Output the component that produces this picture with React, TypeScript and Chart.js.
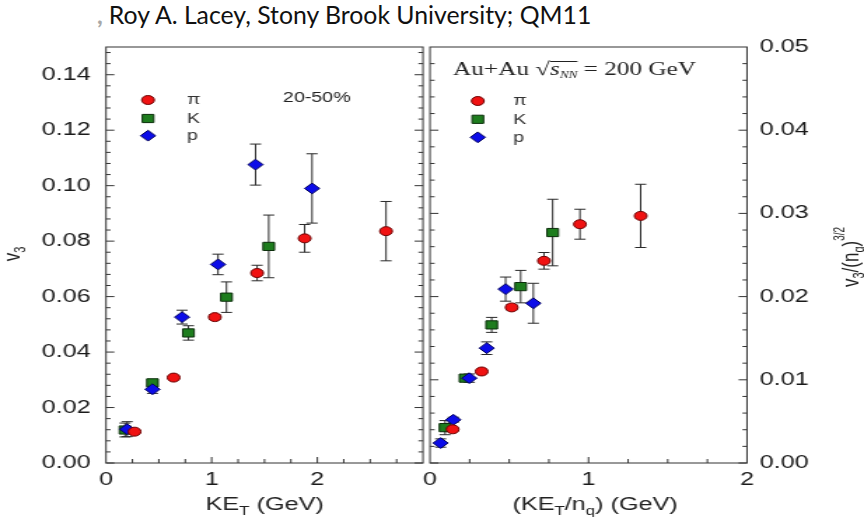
import React, { useEffect, useRef } from 'react';
import { Chart, registerables } from 'chart.js';

Chart.register(...registerables);

// The original figure is stretched horizontally; canvases are drawn narrower and widened by CSS.
const CW = 617;
const CH = 517;
const K = 864 / CW;
const SANS = '"Liberation Sans", Arial, sans-serif';
const SERIF = '"Liberation Serif", "DejaVu Serif", serif';

// ---- Left panel: v3 vs KE_T (GeV) ----
const pionKE = [0.27, 0.64, 1.03, 1.43, 1.88, 2.65];
const pionV3 = [0.0113, 0.0308, 0.0526, 0.0685, 0.081, 0.0836];
const pionV3Err = [0.0006, 0.0006, 0.0009, 0.0028, 0.005, 0.0107];

const kaonKE = [0.18, 0.44, 0.78, 1.14, 1.54];
const kaonV3 = [0.0119, 0.0289, 0.0469, 0.0598, 0.0781];
const kaonV3Err = [0.0025, 0.001, 0.0026, 0.0055, 0.0113];

const protonKE = [0.2, 0.44, 0.72, 1.06, 1.415, 1.95];
const protonV3 = [0.0122, 0.0266, 0.0526, 0.0716, 0.1076, 0.099];
const protonV3Err = [0.0027, 0.0015, 0.0025, 0.0037, 0.0074, 0.0125];

// ---- Right panel: v3/(nq)^{3/2} vs KE_T/nq (GeV) ----
const pionKEnq = [0.143, 0.326, 0.515, 0.719, 0.946, 1.329];
const pionScaled = [0.00405, 0.011, 0.0187, 0.0243, 0.0287, 0.0297];
const pionScaledErr = [0.0002, 0.0002, 0.0003, 0.001, 0.0018, 0.0038];

const kaonKEnq = [0.095, 0.221, 0.389, 0.572, 0.774];
const kaonScaled = [0.00425, 0.0102, 0.0166, 0.0212, 0.0277];
const kaonScaledErr = [0.00085, 0.0004, 0.0009, 0.00195, 0.004];

const protonKEnq = [0.067, 0.147, 0.248, 0.358, 0.477, 0.652];
const protonScaled = [0.0024, 0.0052, 0.0102, 0.0138, 0.0209, 0.0192];
const protonScaledErr = [0.0005, 0.0003, 0.0005, 0.00076, 0.00145, 0.0024];

// ---- Tick labels ----
const leftXTicks = [0, 1, 2];
const leftYTicks = [0, 0.02, 0.04, 0.06, 0.08, 0.1, 0.12, 0.14];
const rightXTicks = [0, 1, 2];
const rightYTicks = [0, 0.01, 0.02, 0.03, 0.04, 0.05];

const legendLabels = ['π', 'K', 'p'];

const STYLES = {
  pion: { pointStyle: 'circle', radius: 4.5, bg: '#f01212', border: '#6a0000' },
  kaon: { pointStyle: 'rect', radius: 5.8, bg: '#1e7d1e', border: '#0b2e0b' },
  proton: { pointStyle: 'rectRot', radius: 5.4, bg: '#0c0ce8', border: '#00005a' },
};

type Part = { t: string; size: number; dy?: number; style?: string; family?: string };

function drawRich(ctx: CanvasRenderingContext2D, parts: Part[], x: number, y: number, align: 'left' | 'center') {
  const widths: number[] = [];
  let total = 0;
  parts.forEach((p) => {
    ctx.font = `${p.style || ''} ${p.size}px ${p.family || SANS}`;
    const w = ctx.measureText(p.t).width;
    widths.push(w);
    total += w;
  });
  let cx = align === 'center' ? x - total / 2 : x;
  const starts: number[] = [];
  ctx.textAlign = 'left';
  ctx.textBaseline = 'alphabetic';
  parts.forEach((p, i) => {
    ctx.font = `${p.style || ''} ${p.size}px ${p.family || SANS}`;
    starts.push(cx);
    ctx.fillText(p.t, cx, y + (p.dy || 0));
    cx += widths[i];
  });
  starts.push(cx);
  return starts;
}

function drawMarker(ctx: CanvasRenderingContext2D, st: any, x: number, y: number) {
  const r = st.radius;
  ctx.beginPath();
  if (st.pointStyle === 'circle') {
    ctx.arc(x, y, r, 0, Math.PI * 2);
  } else if (st.pointStyle === 'rect') {
    const s = Math.SQRT1_2 * r;
    ctx.rect(x - s, y - s, 2 * s, 2 * s);
  } else {
    ctx.moveTo(x - r, y);
    ctx.lineTo(x, y - r);
    ctx.lineTo(x + r, y);
    ctx.lineTo(x, y + r);
    ctx.closePath();
  }
  ctx.fillStyle = st.bg;
  ctx.fill();
  ctx.lineWidth = 1;
  ctx.strokeStyle = st.border;
  ctx.stroke();
}

function steps(max: number, step: number) {
  const out: number[] = [];
  for (let i = 0; i * step <= max + 1e-9; i++) out.push(+(i * step).toFixed(6));
  return out;
}

function makeDataset(label: string, xs: number[], ys: number[], errs: number[], st: any, order: number) {
  return {
    label,
    data: xs.map((x, i) => ({ x, y: ys[i] })),
    errors: errs,
    pointStyle: st.pointStyle,
    pointRadius: st.radius,
    pointBackgroundColor: st.bg,
    pointBorderColor: st.border,
    pointBorderWidth: 1,
    showLine: false,
    order,
  };
}

function makeDecor(cfg: {
  xMinor: number[];
  yMinor: number[];
  xMajor: number[];
  yMajor: number[];
  legendX: number;
  legendLabelX: number;
  legendY: number[];
  extra: (ctx: CanvasRenderingContext2D, chart: any) => void;
}) {
  return {
    id: 'decor',
    beforeDatasetsDraw(chart: any) {
      const ctx = chart.ctx as CanvasRenderingContext2D;
      const ys = chart.scales.y;
      ctx.save();
      ctx.strokeStyle = '#2a2a2a';
      ctx.lineWidth = 1;
      chart.data.datasets.forEach((ds: any, i: number) => {
        const meta = chart.getDatasetMeta(i);
        ds.data.forEach((pt: any, j: number) => {
          const e = ds.errors[j];
          const el = meta.data[j];
          const x = el.x;
          const yt = ys.getPixelForValue(pt.y + e);
          const yb = ys.getPixelForValue(pt.y - e);
          ctx.beginPath();
          ctx.moveTo(x, yt);
          ctx.lineTo(x, yb);
          ctx.moveTo(x - 4, yt);
          ctx.lineTo(x + 4, yt);
          ctx.moveTo(x - 4, yb);
          ctx.lineTo(x + 4, yb);
          ctx.stroke();
        });
      });
      ctx.restore();
    },
    afterDraw(chart: any) {
      const ctx = chart.ctx as CanvasRenderingContext2D;
      const { left, right, top, bottom } = chart.chartArea;
      const xs = chart.scales.x;
      const ys = chart.scales.y;
      ctx.save();
      ctx.strokeStyle = '#333';
      ctx.lineWidth = 1;
      ctx.strokeRect(left, top, right - left, bottom - top);
      ctx.beginPath();
      cfg.yMinor.forEach((v) => {
        const y = ys.getPixelForValue(v);
        if (y < top + 1) return;
        const len = cfg.yMajor.some((m) => Math.abs(m - v) < 1e-9) ? 6 : 3.3;
        ctx.moveTo(left, y);
        ctx.lineTo(left + len, y);
        ctx.moveTo(right, y);
        ctx.lineTo(right - len, y);
      });
      cfg.xMinor.forEach((v) => {
        const x = xs.getPixelForValue(v);
        if (x < left + 1 || x > right - 1) return;
        const len = cfg.xMajor.some((m) => Math.abs(m - v) < 1e-9) ? 6 : 4;
        ctx.moveTo(x, bottom);
        ctx.lineTo(x, bottom - len);
      });
      ctx.stroke();

      // legend
      const keys = ['pion', 'kaon', 'proton'];
      keys.forEach((k, i) => {
        drawMarker(ctx, (STYLES as any)[k], cfg.legendX, cfg.legendY[i]);
        ctx.fillStyle = '#333';
        ctx.font = `14px ${SANS}`;
        ctx.textAlign = 'left';
        ctx.textBaseline = 'middle';
        ctx.fillText(legendLabels[i], cfg.legendLabelX, cfg.legendY[i] + 0.5);
      });
      ctx.fillStyle = '#222';
      cfg.extra(ctx, chart);
      ctx.restore();
    },
  };
}

function tickFont() {
  return { family: SANS, size: 18 };
}

function buildChart(canvas: HTMLCanvasElement, side: 'left' | 'right') {
  const isLeft = side === 'left';
  const datasets = isLeft
    ? [
        makeDataset('π', pionKE, pionV3, pionV3Err, STYLES.pion, 0),
        makeDataset('K', kaonKE, kaonV3, kaonV3Err, STYLES.kaon, 2),
        makeDataset('p', protonKE, protonV3, protonV3Err, STYLES.proton, 1),
      ]
    : [
        makeDataset('π', pionKEnq, pionScaled, pionScaledErr, STYLES.pion, 0),
        makeDataset('K', kaonKEnq, kaonScaled, kaonScaledErr, STYLES.kaon, 2),
        makeDataset('p', protonKEnq, protonScaled, protonScaledErr, STYLES.proton, 1),
      ];
  const xMax = isLeft ? 3 : 2;
  const yMax = isLeft ? 0.15 : 0.05;
  const xTicks = isLeft ? leftXTicks : rightXTicks;
  const yTicks = isLeft ? leftYTicks : rightYTicks;

  const decor = makeDecor({
    xMinor: steps(xMax, 0.25),
    yMinor: steps(yMax, isLeft ? 0.004 : 0.002),
    xMajor: xTicks,
    yMajor: yTicks,
    legendX: isLeft ? 105.7 : 341.2,
    legendLabelX: isLeft ? 133.6 : 366.4,
    legendY: isLeft ? [100, 118.5, 135.7] : [101, 119.3, 137.3],
    extra: (ctx) => {
      if (isLeft) {
        drawRich(ctx, [
          { t: 'KE', size: 18 },
          { t: 'T', size: 12, dy: 5 },
          { t: ' (GeV)', size: 18 },
        ], 189, 510, 'center');
        ctx.save();
        ctx.translate(13.8, 254);
        ctx.rotate(-Math.PI / 2);
        drawRich(ctx, [
          { t: 'v', size: 17 },
          { t: '3', size: 11, dy: 4 },
        ], 0, 0, 'center');
        ctx.restore();
        drawRich(ctx, [{ t: '20-50%', size: 14 }], 202.1, 101.5, 'left');
      } else {
        drawRich(ctx, [
          { t: '(KE', size: 18 },
          { t: 'T', size: 12, dy: 5 },
          { t: '/n', size: 18 },
          { t: 'q', size: 12, dy: 5 },
          { t: ') (GeV)', size: 18 },
        ], 425, 510, 'center');
        ctx.save();
        ctx.translate(613, 257);
        ctx.rotate(-Math.PI / 2);
        drawRich(ctx, [
          { t: 'v', size: 17 },
          { t: '3', size: 11, dy: 4 },
          { t: '/(n', size: 17 },
          { t: 'q', size: 11, dy: 4 },
          { t: ')', size: 17 },
          { t: '3/2', size: 10, dy: -10 },
        ], 0, 0, 'center');
        ctx.restore();
        const starts = drawRich(ctx, [
          { t: 'Au+Au ', size: 18, family: SERIF },
          { t: '√', size: 19, family: SERIF },
          { t: 's', size: 18, family: SERIF, style: 'italic' },
          { t: 'NN', size: 9.5, family: SERIF, style: 'italic', dy: 3 },
          { t: ' = 200 GeV', size: 18, family: SERIF },
        ], 323.6, 75, 'left');
        ctx.beginPath();
        ctx.strokeStyle = '#222';
        ctx.lineWidth = 1;
        ctx.moveTo(starts[2], 61.5);
        ctx.lineTo(starts[4], 61.5);
        ctx.stroke();
      }
    },
  });

  // chart area edges (in page pixels): left panel 106..423, right panel 430..747, top 47, bottom 463
  const areaLeft = (isLeft ? 106 : 430) / K;
  const areaRight = (isLeft ? 423 : 747) / K;
  const yAxisWidth = isLeft ? areaLeft : CW - areaRight;
  const padding = isLeft
    ? { left: 0, right: CW - areaRight, top: 47, bottom: 0 }
    : { left: areaLeft, right: 0, top: 47, bottom: 0 };

  return new Chart(canvas, {
    type: 'scatter',
    data: { datasets: datasets as any },
    options: {
      responsive: false,
      animation: false,
      events: [],
      layout: { padding },
      plugins: { legend: { display: false }, tooltip: { enabled: false } },
      scales: {
        x: {
          type: 'linear',
          min: 0,
          max: xMax,
          grid: { display: false, drawTicks: false },
          border: { display: false },
          afterFit: (s: any) => {
            s.height = CH - 463;
          },
          afterBuildTicks: (s: any) => {
            s.ticks = xTicks.map((v) => ({ value: v }));
          },
          ticks: {
            padding: 6,
            autoSkip: false,
            maxRotation: 0,
            minRotation: 0,
            font: tickFont(),
            color: '#1a1a1a',
            callback: (v: any) => String(v),
          },
        },
        y: {
          type: 'linear',
          position: isLeft ? 'left' : 'right',
          min: 0,
          max: yMax,
          grid: { display: false, drawTicks: false },
          border: { display: false },
          afterFit: (s: any) => {
            s.width = yAxisWidth;
          },
          afterBuildTicks: (s: any) => {
            s.ticks = yTicks.map((v) => ({ value: v }));
          },
          ticks: {
            padding: isLeft ? 11 : 9,
            autoSkip: false,
            font: tickFont(),
            color: '#1a1a1a',
            callback: (v: any) => Number(v).toFixed(2),
          },
        },
      },
    },
    plugins: [decor as any],
  });
}

export default function App() {
  const leftRef = useRef<HTMLCanvasElement>(null);
  const rightRef = useRef<HTMLCanvasElement>(null);

  useEffect(() => {
    const a = buildChart(leftRef.current!, 'left');
    const b = buildChart(rightRef.current!, 'right');
    return () => {
      a.destroy();
      b.destroy();
    };
  }, []);

  const canvasStyle: React.CSSProperties = {
    position: 'absolute',
    left: 0,
    top: 0,
    width: '864px',
    height: '517px',
  };

  return (
    <div
      style={{
        position: 'fixed',
        left: 0,
        top: 0,
        width: 864,
        height: 517,
        background: '#fff',
        overflow: 'hidden',
      }}
    >
      <div
        style={{
          position: 'absolute',
          left: 97,
          top: 0,
          font: '24.8px Lato, "Open Sans", sans-serif',
          lineHeight: '30px',
          whiteSpace: 'nowrap',
          color: '#111',
        }}
      >
        <span style={{ color: '#a8a8a8', fontWeight: 700, marginRight: 6 }}>,</span>Roy A. Lacey, Stony Brook University; QM11
      </div>
      <canvas ref={leftRef} width={CW} height={CH} style={canvasStyle} />
      <canvas ref={rightRef} width={CW} height={CH} style={canvasStyle} />
    </div>
  );
}
